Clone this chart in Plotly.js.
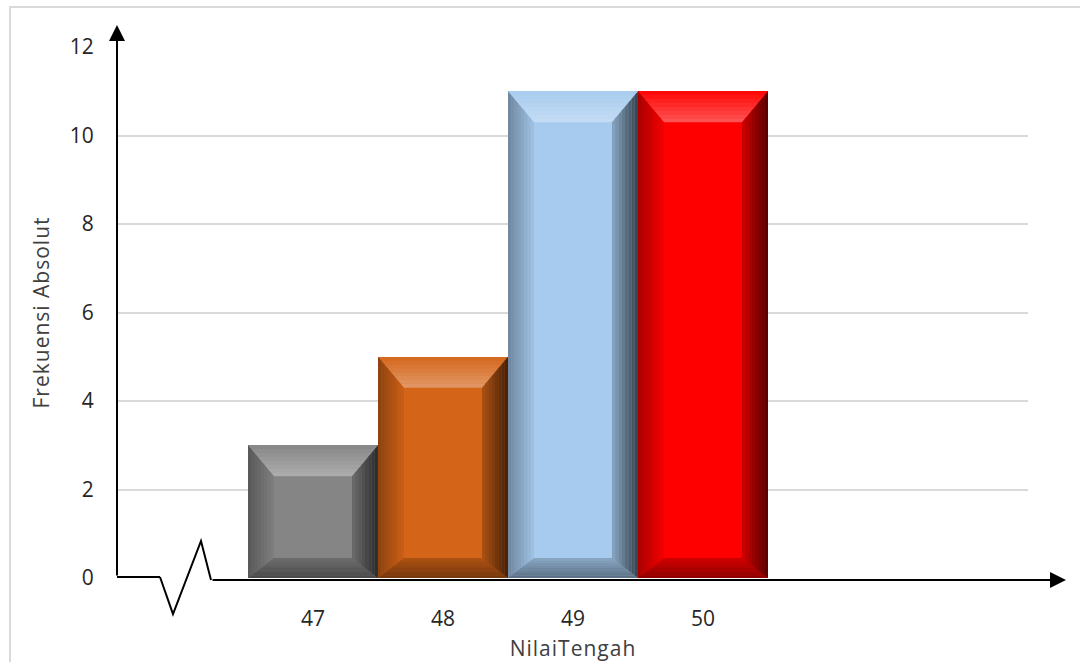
<!DOCTYPE html>
<html>
<head>
<meta charset="utf-8">
<script src="https://cdn.plot.ly/plotly-3.0.1.min.js"></script>
<style>
  html, body { margin: 0; padding: 0; background: #ffffff; }
  #wrap { position: relative; width: 1080px; height: 662px; overflow: hidden; }
  #chart { position: absolute; left: 0; top: 0; width: 1080px; height: 662px; }
  #frame { position: absolute; left: 9px; top: 6px; width: 1080px; height: 662px;
           border-left: 2px solid #d9d9d9; border-top: 2px solid #d9d9d9; pointer-events: none; }
  .xtitle, .ytitle { letter-spacing: 1px; }
</style>
</head>
<body>
<div id="wrap">
  <div id="chart"></div>
  <div id="frame"></div>
</div>
<script>
// ---- data ----
const categories = [47, 48, 49, 50];
const frequencies = [3, 5, 11, 11];
const barColors = ['#858585', '#d46418', '#a7cbef', '#ff0000'];
const yTicks = [0, 2, 4, 6, 8, 10, 12];
const xTitle = 'NilaiTengah';
const yTitle = 'Frekuensi Absolut';

// ---- layout geometry ----
const W = 1080, H = 662;
const M = { l: 118, r: 52, t: 47, b: 84 };
const plotW = W - M.l - M.r, plotH = H - M.t - M.b;
const px2x = p => (p - M.l) / plotW;   // paper x
const py2y = p => (H - M.b - p) / plotH; // paper y

const FONT = '"Open Sans", "Noto Sans", sans-serif';

// bevel shapes built from the data
const shapes = [];
const barW = 1;
const bx = 0.2, byT = 0.7, byB = 0.45;
const N = 8;
// opacity at outer edge -> inner edge for each side
const sideRange = {
  top:    ['255,255,255', 0.02, 0.34],
  left:   ['0,0,0', 0.34, 0.04],
  right:  ['0,0,0', 0.68, 0.18],
  bottom: ['0,0,0', 0.45, 0.18]
};
categories.forEach((c, i) => {
  const v = frequencies[i];
  const x0 = c - barW / 2, x1 = c + barW / 2;
  const inset = f => ({
    X0: x0 + f * bx, X1: x1 - f * bx, YT: v - f * byT, YB: f * byB
  });
  for (let k = 0; k < N; k++) {
    const a = inset(k / N), b = inset((k + 1) / N);
    const t = (k + 0.5) / N;
    const polys = {
      top:    [[a.X0, a.YT], [a.X1, a.YT], [b.X1, b.YT], [b.X0, b.YT]],
      bottom: [[a.X0, a.YB], [a.X1, a.YB], [b.X1, b.YB], [b.X0, b.YB]],
      left:   [[a.X0, a.YB], [a.X0, a.YT], [b.X0, b.YT], [b.X0, b.YB]],
      right:  [[a.X1, a.YB], [a.X1, a.YT], [b.X1, b.YT], [b.X1, b.YB]]
    };
    Object.keys(polys).forEach(side => {
      const p = polys[side];
      const s = sideRange[side];
      const op = s[1] + (s[2] - s[1]) * t;
      shapes.push({
        type: 'path', xref: 'x', yref: 'y', layer: 'above',
        path: 'M' + p.map(q => q[0] + ',' + q[1]).join(' L') + ' Z',
        fillcolor: 'rgba(' + s[0] + ',' + op.toFixed(3) + ')', line: { width: 0 }
      });
    });
  }
});

// axis decorations: y-axis line with break zigzag on the x-axis
shapes.push({
  type: 'path', xref: 'paper', yref: 'paper', layer: 'above',
  path: 'M' + px2x(160) + ',' + py2y(577) +
        ' L' + px2x(173) + ',' + py2y(614) +
        ' L' + px2x(201) + ',' + py2y(541) +
        ' L' + px2x(211) + ',' + py2y(580),
  line: { color: '#000000', width: 2 }
});
shapes.push({
  type: 'line', xref: 'paper', yref: 'paper', layer: 'above',
  x0: px2x(117), y0: py2y(577), x1: px2x(160), y1: py2y(577),
  line: { color: '#000000', width: 2 }
});

const annotations = [
  { // y-axis arrow
    xref: 'paper', yref: 'paper', x: px2x(117), y: py2y(25),
    ax: 0, ay: 552, axref: 'pixel', ayref: 'pixel',
    text: '', showarrow: true, arrowhead: 2, arrowsize: 1.6, arrowwidth: 2, arrowcolor: '#000000'
  },
  { // x-axis arrow
    xref: 'paper', yref: 'paper', x: px2x(1066), y: py2y(580),
    ax: -855, ay: 0, axref: 'pixel', ayref: 'pixel',
    text: '', showarrow: true, arrowhead: 2, arrowsize: 1.6, arrowwidth: 2, arrowcolor: '#000000'
  }
];

const trace = {
  type: 'bar',
  x: categories,
  y: frequencies,
  width: barW,
  marker: { color: barColors, line: { width: 0 } },
  hoverinfo: 'x+y'
};

const layout = {
  width: W, height: H,
  margin: M,
  paper_bgcolor: '#ffffff',
  plot_bgcolor: '#ffffff',
  showlegend: false,
  font: { family: FONT, size: 21, color: '#262626' },
  bargap: 0,
  xaxis: {
    range: [45.5, 52.5],
    tickvals: categories,
    ticktext: categories.map(String),
    ticks: 'outside', ticklen: 22, tickcolor: 'rgba(0,0,0,0)',
    showgrid: false, zeroline: false, showline: false,
    tickfont: { family: FONT, size: 21, color: '#262626' },
    title: { text: xTitle, standoff: 10, font: { family: FONT, size: 21, color: '#404040' } },
    automargin: false, fixedrange: true
  },
  yaxis: {
    range: [0, 12],
    tickvals: yTicks,
    ticks: 'outside', ticklen: 19, tickcolor: 'rgba(0,0,0,0)',
    showgrid: true, gridcolor: '#d9d9d9', gridwidth: 2,
    zeroline: false, showline: false,
    tickfont: { family: FONT, size: 21, color: '#262626' },
    title: { text: yTitle, standoff: 14, font: { family: FONT, size: 21, color: '#404040' } },
    automargin: false, fixedrange: true
  },
  shapes: shapes,
  annotations: annotations
};

Plotly.newPlot('chart', [trace], layout, { displayModeBar: false, staticPlot: true });
</script>
</body>
</html>
